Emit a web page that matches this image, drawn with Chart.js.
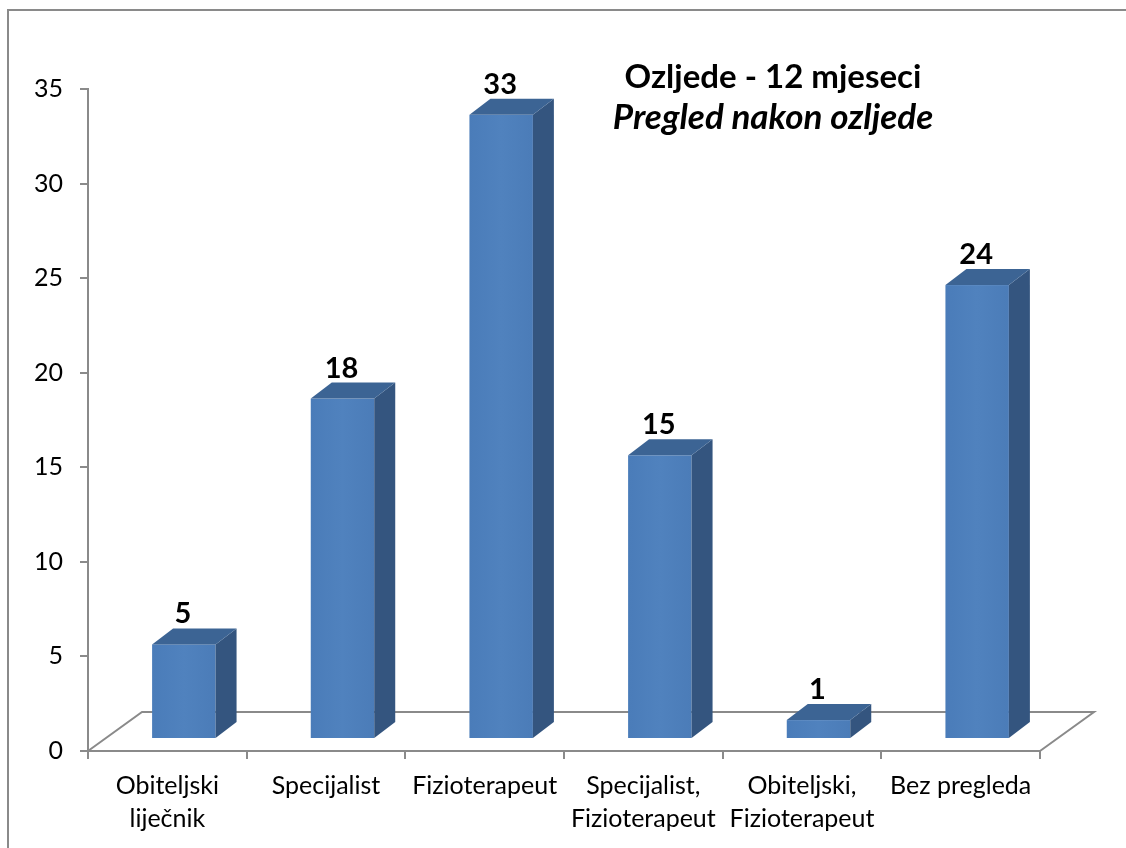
<!DOCTYPE html>
<html>
<head>
<meta charset="utf-8">
<script src="https://cdn.jsdelivr.net/npm/chart.js@4.4.1/dist/chart.umd.min.js"></script>
<style>
  body { margin: 0; background: #fff; }
  #wrap { position: relative; width: 1126px; height: 848px; overflow: hidden; }
  #frame { position: absolute; left: 7px; top: 9px; width: 1200px; height: 900px;
           border-left: 2px solid #8a8a8a; border-top: 2px solid #8a8a8a; }
  canvas { position: absolute; left: 0; top: 0; }
</style>
</head>
<body>
<div id="wrap">
  <div id="frame"></div>
  <canvas id="injuryChart" width="1126" height="848"></canvas>
</div>
<script>
const categories = [
    ['Obiteljski', 'liječnik'],
    'Specijalist',
    'Fizioterapeut',
    ['Specijalist,', 'Fizioterapeut'],
    ['Obiteljski,', 'Fizioterapeut'],
    'Bez pregleda'
];
const counts = [5, 18, 33, 15, 1, 24];
const titleLines = ['Ozljede - 12 mjeseci', 'Pregled nakon ozljede'];
const yTicks = [0, 5, 10, 15, 20, 25, 30, 35];

const FONT = 'Lato, "Open Sans", sans-serif';
const GREY = '#8a8a8a';

// 3D look: floor depth, bar shift inside the floor, bar depth
const FLOOR_DX = 54, FLOOR_DY = 39;
const SHIFT_X = 16.5, SHIFT_Y = 12;
const DEPTH_X = 21, DEPTH_Y = 16;

// floor behind the bars
const floorPlugin = {
    id: 'floor',
    beforeDatasetsDraw(chart) {
        const { ctx, chartArea: a } = chart;
        ctx.save();
        ctx.strokeStyle = GREY;
        ctx.lineWidth = 2;
        ctx.beginPath();
        ctx.moveTo(a.left, a.bottom);
        ctx.lineTo(a.left + FLOOR_DX, a.bottom - FLOOR_DY);
        ctx.lineTo(a.right + FLOOR_DX, a.bottom - FLOOR_DY);
        ctx.lineTo(a.right, a.bottom);
        ctx.stroke();
        ctx.restore();
    }
};

// draw each bar as a box, using the bar element geometry
const boxPlugin = {
    id: 'box3d',
    afterDatasetsDraw(chart) {
        const ctx = chart.ctx;
        const meta = chart.getDatasetMeta(0);
        ctx.save();
        meta.data.forEach((bar, i) => {
            const x0 = bar.x - bar.width / 2 + SHIFT_X;
            const x1 = bar.x + bar.width / 2 + SHIFT_X;
            const top = bar.y - SHIFT_Y;
            const bottom = bar.base - SHIFT_Y;

            // front
            const grad = ctx.createLinearGradient(x0, 0, x1, 0);
            grad.addColorStop(0, '#4a7cb9');
            grad.addColorStop(0.5, '#5082be');
            grad.addColorStop(1, '#4b7cb8');
            ctx.fillStyle = grad;
            ctx.fillRect(x0, top, x1 - x0, bottom - top);

            // side
            ctx.fillStyle = '#34557f';
            ctx.beginPath();
            ctx.moveTo(x1, top);
            ctx.lineTo(x1 + DEPTH_X, top - DEPTH_Y);
            ctx.lineTo(x1 + DEPTH_X, bottom - DEPTH_Y);
            ctx.lineTo(x1, bottom);
            ctx.closePath();
            ctx.fill();

            // top
            ctx.fillStyle = '#3c6494';
            ctx.beginPath();
            ctx.moveTo(x0, top);
            ctx.lineTo(x0 + DEPTH_X, top - DEPTH_Y);
            ctx.lineTo(x1 + DEPTH_X, top - DEPTH_Y);
            ctx.lineTo(x1, top);
            ctx.closePath();
            ctx.fill();

            // value label
            ctx.fillStyle = '#000';
            ctx.font = 'bold 29px ' + FONT;
            ctx.textAlign = 'center';
            ctx.textBaseline = 'alphabetic';
            ctx.fillText(String(counts[i]), (x0 + x1) / 2 - 1, top - 21);
        });
        ctx.restore();
    }
};

const titlePlugin = {
    id: 'titleText',
    afterDraw(chart) {
        const ctx = chart.ctx;
        ctx.save();
        ctx.fillStyle = '#000';
        ctx.textAlign = 'center';
        ctx.textBaseline = 'alphabetic';
        ctx.font = 'bold 33px ' + FONT;
        ctx.fillText(titleLines[0], 773, 88);
        ctx.font = 'italic bold 35px ' + FONT;
        ctx.fillText(titleLines[1], 773, 129);
        ctx.restore();
    }
};

const ctx = document.getElementById('injuryChart').getContext('2d');
const injuryChart = new Chart(ctx, {
    type: 'bar',
    data: {
        labels: categories,
        datasets: [{
            data: counts,
            backgroundColor: 'rgba(0,0,0,0)',
            categoryPercentage: 1,
            barPercentage: 0.4
        }]
    },
    options: {
        responsive: false,
        animation: false,
        layout: { padding: { left: 0, top: 89, right: 86, bottom: 0 } },
        plugins: {
            legend: { display: false },
            tooltip: { enabled: false }
        },
        scales: {
            x: {
                afterFit: s => { s.height = 97; },
                grid: {
                    display: true,
                    drawOnChartArea: false,
                    drawTicks: true,
                    tickLength: 8,
                    color: GREY,
                    lineWidth: 2
                },
                border: { display: true, color: GREY, width: 2 },
                ticks: {
                    color: '#000',
                    padding: 10,
                    maxRotation: 0,
                    autoSkip: false,
                    font: { family: FONT, size: 25, lineHeight: 1.32 }
                }
            },
            y: {
                min: 0,
                max: 35,
                afterFit: s => { s.width = 88; },
                afterBuildTicks: s => { s.ticks = yTicks.map(v => ({ value: v })); },
                grid: {
                    display: true,
                    drawOnChartArea: false,
                    drawTicks: true,
                    tickLength: 8,
                    color: GREY,
                    lineWidth: 2
                },
                border: { display: true, color: GREY, width: 2 },
                ticks: {
                    color: '#000',
                    padding: 17,
                    font: { family: FONT, size: 25 }
                }
            }
        }
    },
    plugins: [floorPlugin, boxPlugin, titlePlugin]
});
</script>
</body>
</html>
